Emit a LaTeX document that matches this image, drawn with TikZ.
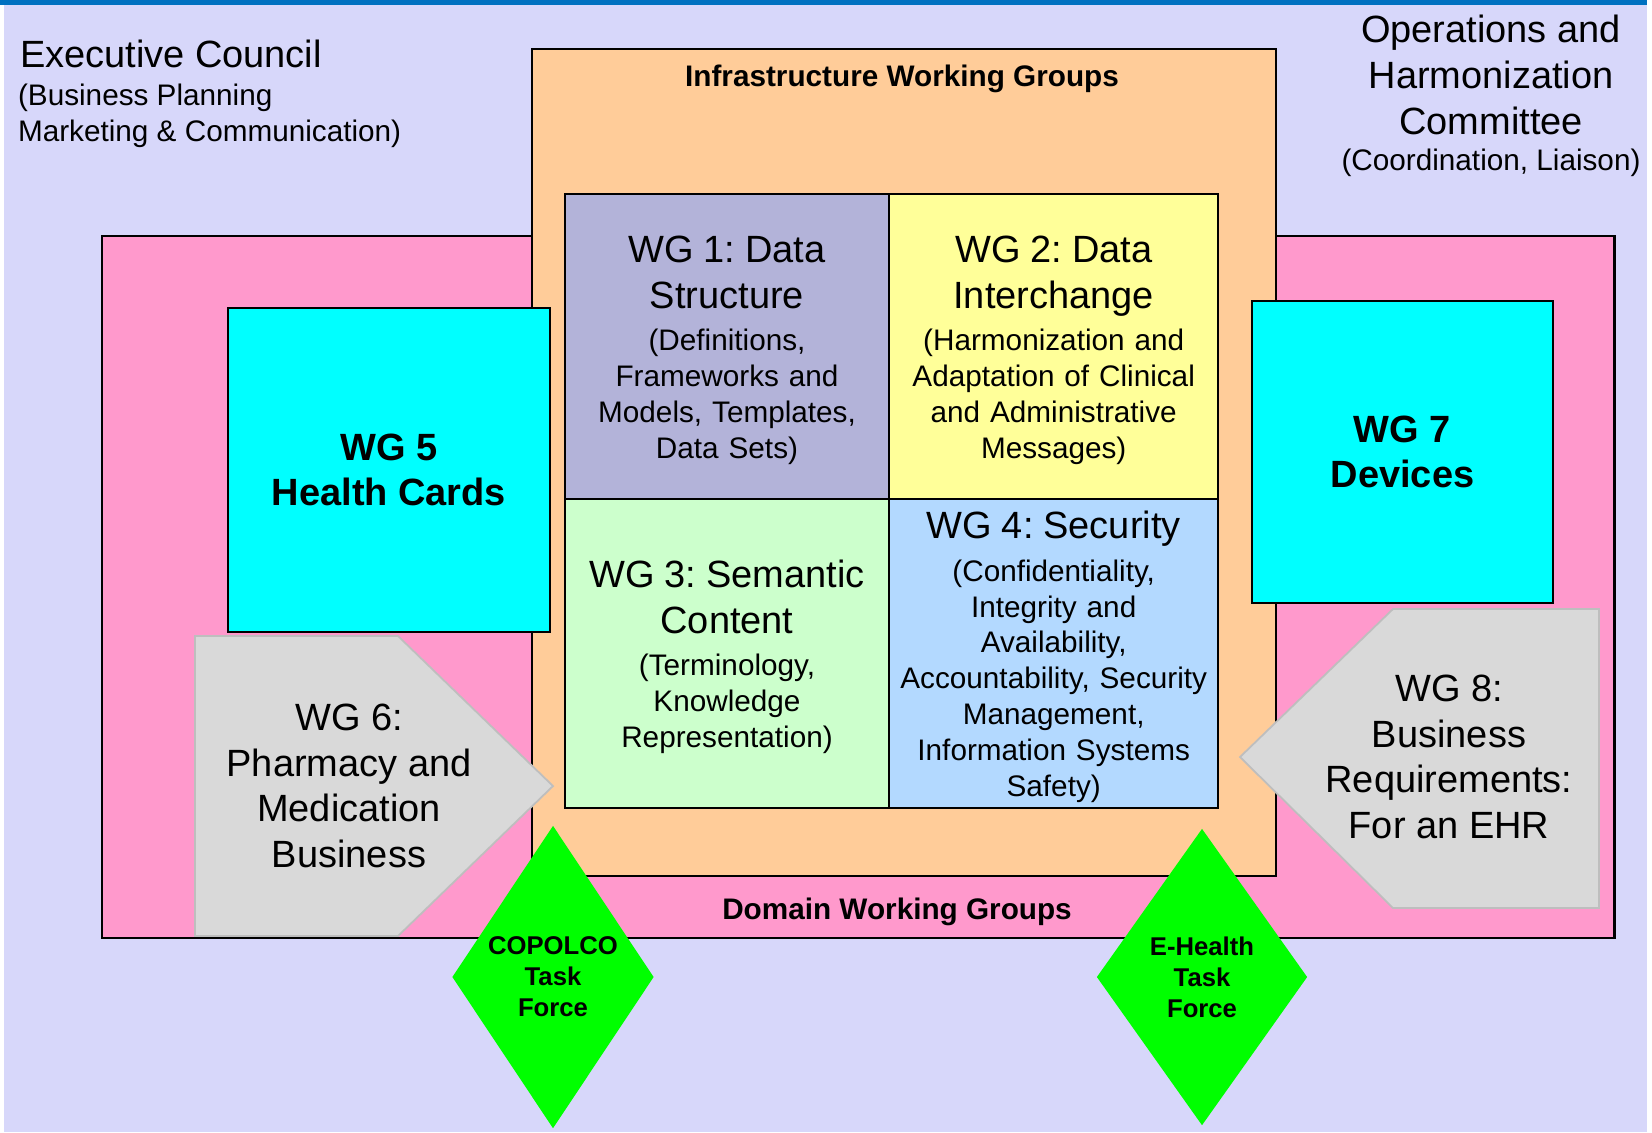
\documentclass[tikz,border=0pt]{standalone}
\usepackage{fontspec}
\setmainfont{Liberation Sans}
\usetikzlibrary{shapes.geometric,positioning}

\definecolor{backlav}{RGB}{215,215,250}
\definecolor{barblue}{RGB}{0,112,192}
\definecolor{dompink}{RGB}{255,153,204}
\definecolor{infraorange}{RGB}{255,204,153}
\definecolor{wgone}{RGB}{179,179,217}
\definecolor{wgtwo}{RGB}{255,255,153}
\definecolor{wgthree}{RGB}{204,255,204}
\definecolor{wgfour}{RGB}{179,217,255}
\definecolor{cardcyan}{RGB}{0,255,255}
\definecolor{taskgreen}{RGB}{0,255,0}
\definecolor{arrowgray}{RGB}{217,217,217}
\definecolor{arrowline}{RGB}{190,190,190}

\newcommand{\bigtxt}{\fontsize{10.8}{13}\selectfont}
\newcommand{\smalltxt}{\fontsize{8.45}{10.2}\selectfont}
\newcommand{\tinytxt}{\fontsize{7.3}{8.85}\selectfont}
\newcommand{\wgtitle}[1]{{\bigtxt\rule{0pt}{9.7pt}#1\par}\vspace{1.8pt}}

\frenchspacing
\begin{document}
\begin{tikzpicture}[x=0.01cm,y=-0.01cm,line width=0.6pt,
    panel/.style={rectangle,draw=black,inner sep=0pt,outer sep=0pt},
    wg node/.style={panel,font=\smalltxt,text width=3.2cm,align=center,
        minimum width=3.24cm,minimum height=3.05cm},
    card/.style={panel,fill=cardcyan,font=\bigtxt\bfseries,align=center},
    task/.style={diamond,fill=taskgreen,inner sep=0pt,aspect=0.67,
        font=\tinytxt\bfseries,align=center},
    wg arrow/.style={fill=arrowgray,draw=arrowline,line width=0.5pt},
    big text/.style={inner sep=0pt,font=\bigtxt,align=center},
    small text/.style={inner sep=0pt,font=\smalltxt,align=center},
    group title/.style={inner sep=0pt,font=\smalltxt\bfseries}]

\useasboundingbox (0,0) rectangle (1652,1132);
\fill[backlav] (4,5) rectangle (1647,1132);
\fill[barblue] (0,0) rectangle (1647,5);

\node[big text,anchor=west,align=left] (exec) at (19,54) {Executive Council};
\node[small text,anchor=west,align=left] (execsub) at (17,116)
    {(Business Planning\\Marketing \& Communication)};
\node[big text] (ops) at (1491,75) {Operations and\\Harmonization\\Committee};
\node[small text] (opssub) at (1491,163) {(Coordination, Liaison)};

\node[panel,fill=dompink,minimum width=15.12cm,minimum height=7.02cm] (domain) at (858,587) {};
\node[panel,fill=infraorange,minimum width=7.44cm,minimum height=8.27cm] (infra) at (904,462.5) {};
\node[group title] (infratitle) at (902,79) {Infrastructure Working Groups};
\node[group title] (domaintitle) at (897,912) {Domain Working Groups};

\node[wg node,fill=wgone] (wg1) at (727,346.5)
    {\wgtitle{WG 1: Data\\Structure}(Definitions,\\Frameworks and\\Models, Templates,\\Data Sets)};
\node[wg node,fill=wgtwo,minimum width=3.29cm] (wg2) [right=0pt of wg1]
    {\wgtitle{WG 2: Data\\Interchange}(Harmonization and\\Adaptation of Clinical\\and Administrative\\Messages)};
\node[wg node,fill=wgthree,minimum height=3.09cm] (wg3) [below=0pt of wg1]
    {\wgtitle{WG 3: Semantic\\Content}(Terminology,\\Knowledge\\Representation)};
\node[wg node,fill=wgfour,minimum width=3.29cm,minimum height=3.09cm] (wg4) [right=0pt of wg3]
    {\wgtitle{WG 4: Security}(Confidentiality,\\Integrity and\\Availability,\\Accountability, Security\\Management,\\Information Systems\\Safety)};

\node[card,minimum width=3.22cm,minimum height=3.24cm] (wg5) at (389,470) {WG 5\\Health Cards};
\node[card,minimum width=3.01cm,minimum height=3.02cm] (wg7) at (1402.5,452) {WG 7\\Devices};

\path[wg arrow] (195,636) -- (398,636) -- (553,786) -- (398,936) -- (195,936) -- cycle;
\node[big text] (wg6) at (349,786) {WG 6:\\Pharmacy and\\Medication\\Business};
\path[wg arrow] (1599,609) -- (1393,609) -- (1240,757) -- (1393,908) -- (1599,908) -- cycle;
\node[big text] (wg8) at (1449,757) {WG 8:\\Business\\Requirements:\\For an EHR};

\node[task,minimum width=2.02cm,minimum height=3.03cm] (copolco) at (553,977) {COPOLCO\\Task\\Force};
\node[task,minimum width=2.11cm,minimum height=2.97cm] (ehealth) at (1202,977) {E-Health\\Task\\Force};

\end{tikzpicture}
\end{document}
